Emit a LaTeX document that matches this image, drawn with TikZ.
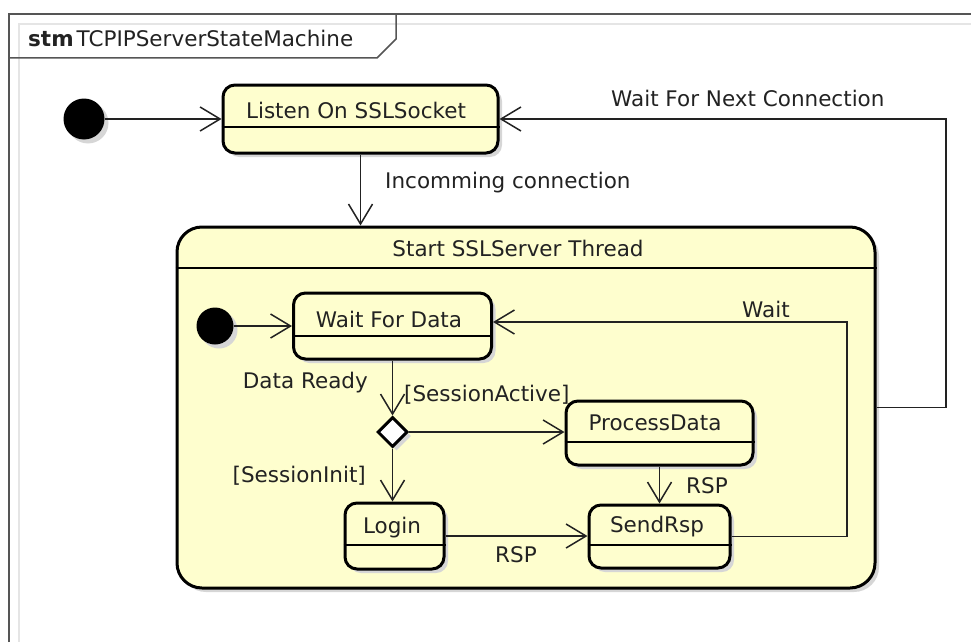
\documentclass[tikz,border=0pt]{standalone}
\usepackage{fontspec}
\setmainfont{DejaVu Sans}
\usetikzlibrary{arrows.meta,shapes.geometric,shadows}

\definecolor{statefill}{HTML}{FEFECE}
\definecolor{framecol}{HTML}{555555}
\definecolor{inkcol}{HTML}{222222}

\tikzset{
  every node/.style={font=\fontsize{21.5}{26}\selectfont, text=inkcol},
  shade4/.style={drop shadow={shadow xshift=4pt, shadow yshift=-4pt, fill=black!16, opacity=1}},
  statebox/.style={draw=black, line width=3pt, fill=statefill, rounded corners=12pt,
                   inner sep=0pt, shade4},
  initdot/.style={circle, fill=black, minimum size=41pt, inner sep=0pt, shade4},
  choice/.style={diamond, draw=black, line width=3pt, fill=white, minimum width=30pt,
                 minimum height=30pt, inner sep=0pt, shade4},
  divider/.style={line width=1.5pt, draw=black},
  conn/.style={line width=1.5pt, draw=inkcol,
               -{Straight Barb[length=20pt, width=24pt, line width=1.5pt]}},
  lbl/.style={inner sep=0pt},
}

\begin{document}
\begin{tikzpicture}[x=1pt, y=-1pt]
  \useasboundingbox (0,0) rectangle (971,642);

  % diagram frame with its name tab
  \draw[black!10, line width=2pt] (19,642) -- (19,24) -- (971,24);
  \draw[framecol, line width=1.5pt] (9,642) -- (9,14) -- (971,14);
  \draw[framecol, line width=1.5pt] (9,58) -- (377,58) -- (396,39) -- (396,14);
  \node[lbl, anchor=west] (title) at (28,38) {\textbf{stm}\hspace{3pt}TCPIPServerStateMachine};

  % outer states
  \node[initdot] (start) at (84,119) {};
  \node[statebox, minimum width=275pt, minimum height=68pt] (listen) at (360.5,119) {};
  \draw[divider] (listen.west |- 0,127) -- (listen.east |- 0,127);
  \node[lbl] at (356,110) {Listen On SSLSocket};

  % composite state
  \node[statebox, rounded corners=25pt, minimum width=698pt, minimum height=361pt] (thread) at (526,407.5) {};
  \draw[divider] (thread.west |- 0,268) -- (thread.east |- 0,268);
  \node[lbl] at (518,248) {Start SSLServer Thread};

  % inner states
  \node[initdot, minimum size=37pt] (start2) at (215,326) {};
  \node[statebox, minimum width=198pt, minimum height=66pt] (wait) at (392.5,326) {};
  \draw[divider] (wait.west |- 0,336) -- (wait.east |- 0,336);
  \node[lbl] at (389,319) {Wait For Data};

  \node[choice] (dec) at (392.5,432) {};

  \node[statebox, minimum width=187pt, minimum height=64pt] (proc) at (659.5,433) {};
  \draw[divider] (proc.west |- 0,442) -- (proc.east |- 0,442);
  \node[lbl] at (655,423) {ProcessData};

  \node[statebox, minimum width=141pt, minimum height=63pt] (send) at (659.5,536.5) {};
  \draw[divider] (send.west |- 0,545) -- (send.east |- 0,545);
  \node[lbl] at (657,527) {SendRsp};

  \node[statebox, minimum width=99pt, minimum height=66pt] (login) at (394.5,536) {};
  \draw[divider] (login.west |- 0,545) -- (login.east |- 0,545);
  \node[lbl] at (392,528) {Login};

  % return routes
  \coordinate (outerloop) at (946,0);
  \coordinate (innerloop) at (847,0);

  % transitions
  \draw[conn] (start) -- (listen.west);
  \draw[conn] (listen.south) -- (listen.south |- thread.north);
  \draw[conn] (thread.east) -- (thread.east -| outerloop) |- (listen.east);

  \draw[conn] (start2) -- (wait.west);
  \draw[conn] (wait.south) -- (dec.north);
  \draw[conn] (dec.east) -- (dec.east -| proc.west);
  \draw[conn] (dec.south) -- (dec.south |- login.north);
  \draw[conn] (proc.south) -- (send.north);
  \draw[conn] (login.east) -- (login.east -| send.west);
  \draw[conn] (send.east) -- (send.east -| innerloop) |- ([yshift=4pt]wait.east);

  % transition labels
  \node[lbl, anchor=west] at (385,183) {Incomming connection};
  \node[lbl, anchor=west] at (611,98) {Wait For Next Connection};
  \node[lbl, anchor=east] at (368,383) {Data Ready};
  \node[lbl, anchor=west] at (404,395) {[SessionActive]};
  \node[lbl, anchor=east] at (366,476) {[SessionInit]};
  \node[lbl, anchor=west] at (686,486) {RSP};
  \node[lbl, anchor=west] at (495,555) {RSP};
  \node[lbl, anchor=west] at (742,309) {Wait};
\end{tikzpicture}
\end{document}
